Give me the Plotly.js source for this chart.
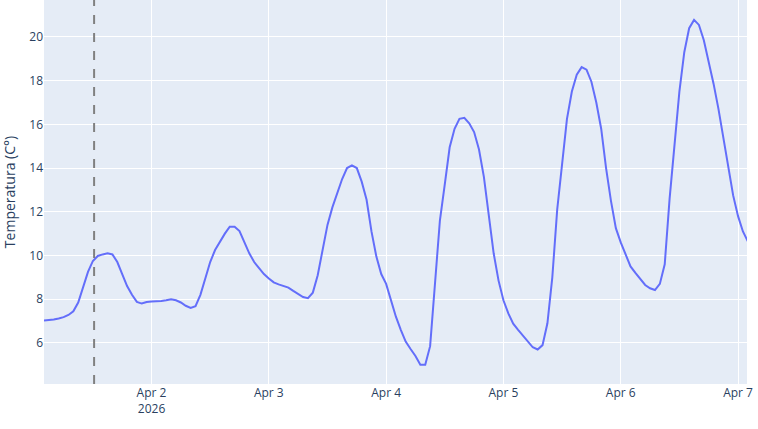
<!DOCTYPE html>
<html>
<head>
<meta charset="utf-8">
<script src="https://cdn.plot.ly/plotly-3.0.1.min.js"></script>
<style>html,body{margin:0;padding:0;background:#fff;}#chart{width:758px;height:429px;}</style>
</head>
<body>
<div id="chart"></div>
<script>
const times = [
"2026-04-01 02:00","2026-04-01 03:00","2026-04-01 04:00","2026-04-01 05:00","2026-04-01 06:00","2026-04-01 07:00","2026-04-01 08:00","2026-04-01 09:00","2026-04-01 10:00","2026-04-01 11:00","2026-04-01 12:00","2026-04-01 13:00","2026-04-01 14:00","2026-04-01 15:00","2026-04-01 16:00","2026-04-01 17:00","2026-04-01 18:00","2026-04-01 19:00","2026-04-01 20:00","2026-04-01 21:00","2026-04-01 22:00","2026-04-01 23:00",
"2026-04-02 00:00","2026-04-02 01:00","2026-04-02 02:00","2026-04-02 03:00","2026-04-02 04:00","2026-04-02 05:00","2026-04-02 06:00","2026-04-02 07:00","2026-04-02 08:00","2026-04-02 09:00","2026-04-02 10:00","2026-04-02 11:00","2026-04-02 12:00","2026-04-02 13:00","2026-04-02 14:00","2026-04-02 15:00","2026-04-02 16:00","2026-04-02 17:00","2026-04-02 18:00","2026-04-02 19:00","2026-04-02 20:00","2026-04-02 21:00","2026-04-02 22:00","2026-04-02 23:00",
"2026-04-03 00:00","2026-04-03 01:00","2026-04-03 02:00","2026-04-03 03:00","2026-04-03 04:00","2026-04-03 05:00","2026-04-03 06:00","2026-04-03 07:00","2026-04-03 08:00","2026-04-03 09:00","2026-04-03 10:00","2026-04-03 11:00","2026-04-03 12:00","2026-04-03 13:00","2026-04-03 14:00","2026-04-03 15:00","2026-04-03 16:00","2026-04-03 17:00","2026-04-03 18:00","2026-04-03 19:00","2026-04-03 20:00","2026-04-03 21:00","2026-04-03 22:00","2026-04-03 23:00",
"2026-04-04 00:00","2026-04-04 01:00","2026-04-04 02:00","2026-04-04 03:00","2026-04-04 04:00","2026-04-04 05:00","2026-04-04 06:00","2026-04-04 07:00","2026-04-04 08:00","2026-04-04 09:00","2026-04-04 10:00","2026-04-04 11:00","2026-04-04 12:00","2026-04-04 13:00","2026-04-04 14:00","2026-04-04 15:00","2026-04-04 16:00","2026-04-04 17:00","2026-04-04 18:00","2026-04-04 19:00","2026-04-04 20:00","2026-04-04 21:00","2026-04-04 22:00","2026-04-04 23:00",
"2026-04-05 00:00","2026-04-05 01:00","2026-04-05 02:00","2026-04-05 03:00","2026-04-05 04:00","2026-04-05 05:00","2026-04-05 06:00","2026-04-05 07:00","2026-04-05 08:00","2026-04-05 09:00","2026-04-05 10:00","2026-04-05 11:00","2026-04-05 12:00","2026-04-05 13:00","2026-04-05 14:00","2026-04-05 15:00","2026-04-05 16:00","2026-04-05 17:00","2026-04-05 18:00","2026-04-05 19:00","2026-04-05 20:00","2026-04-05 21:00","2026-04-05 22:00","2026-04-05 23:00",
"2026-04-06 00:00","2026-04-06 01:00","2026-04-06 02:00","2026-04-06 03:00","2026-04-06 04:00","2026-04-06 05:00","2026-04-06 06:00","2026-04-06 07:00","2026-04-06 08:00","2026-04-06 09:00","2026-04-06 10:00","2026-04-06 11:00","2026-04-06 12:00","2026-04-06 13:00","2026-04-06 14:00","2026-04-06 15:00","2026-04-06 16:00","2026-04-06 17:00","2026-04-06 18:00","2026-04-06 19:00","2026-04-06 20:00","2026-04-06 21:00","2026-04-06 22:00","2026-04-06 23:00",
"2026-04-07 00:00","2026-04-07 01:00","2026-04-07 02:00"
];
const temperatures = [
7.03,7.04,7.07,7.12,7.18,7.28,7.45,7.85,8.6,9.25,9.75,9.98,10.05,10.1,10.05,9.7,9.15,8.6,8.2,7.88,7.8,7.87,
7.9,7.9,7.92,7.95,8.0,7.95,7.85,7.7,7.6,7.68,8.2,8.95,9.7,10.25,10.65,11.0,11.32,11.32,11.12,10.6,10.1,9.7,9.4,9.15,
8.95,8.77,8.68,8.62,8.53,8.38,8.22,8.1,8.05,8.3,9.1,10.25,11.4,12.2,12.85,13.5,14.0,14.12,14.0,13.38,12.55,11.1,9.95,9.15,
8.7,7.9,7.2,6.6,6.06,5.72,5.4,5.0,5.0,5.85,8.8,11.6,13.25,14.95,15.8,16.25,16.3,16.05,15.65,14.85,13.6,11.85,10.1,8.85,
7.95,7.35,6.88,6.6,6.35,6.1,5.8,5.7,5.9,6.9,9.0,12.1,14.3,16.25,17.5,18.27,18.62,18.5,17.95,17.0,15.8,14.0,12.5,11.25,
10.6,10.05,9.5,9.2,8.95,8.65,8.5,8.42,8.7,9.6,12.6,15.2,17.5,19.3,20.4,20.78,20.55,19.85,18.9,17.85,16.7,15.35,14.0,12.75,
11.8,11.1,10.65
];
const nowMarker = "2026-04-01 12:15";
const yTitle = "Temperatura (C°)";

const trace = {
  x: times, y: temperatures, type: "scatter", mode: "lines",
  line: {color: "#636efa", width: 2}, showlegend: false
};
const layout = {
  width: 758, height: 429,
  margin: {l: 44, r: 11, t: 0, b: 45, pad: 0},
  paper_bgcolor: "#ffffff", plot_bgcolor: "#E5ECF6",
  font: {family: '"Open Sans", verdana, arial, sans-serif', size: 12, color: "#2a3f5f"},
  showlegend: false,
  xaxis: {
    type: "date", range: ["2026-04-01 02:00", "2026-04-07 01:50"],
    gridcolor: "#ffffff", gridwidth: 1, zeroline: false, showline: false, ticks: "",
    dtick: 86400000, tick0: "2026-04-02"
  },
  yaxis: {
    range: [4.12, 21.69], dtick: 2, tick0: 0,
    gridcolor: "#ffffff", gridwidth: 1, zeroline: false, showline: false, ticks: "",
    title: {text: yTitle, font: {size: 14}}
  },
  shapes: [{
    type: "line", xref: "x", yref: "paper", x0: nowMarker, x1: nowMarker, y0: 0, y1: 1,
    line: {color: "gray", width: 2, dash: "dash"}
  }]
};
Plotly.newPlot("chart", [trace], layout, {displayModeBar: false, staticPlot: true});
</script>
</body>
</html>
